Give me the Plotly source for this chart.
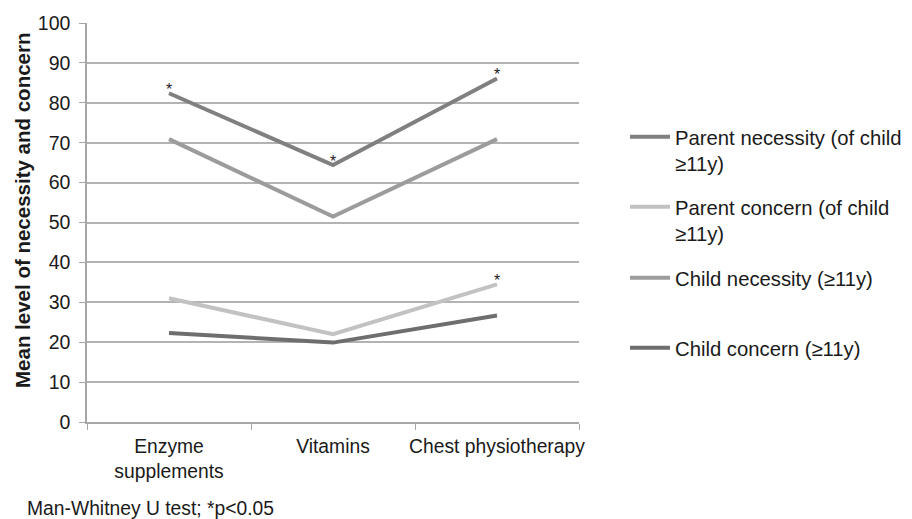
import plotly.graph_objects as go

categories = ["Enzyme<br>supplements", "Vitamins", "Chest physiotherapy"]
parent_necessity = [82.4, 64.4, 86.1]
parent_concern = [31.0, 22.0, 34.5]
child_necessity = [70.9, 51.5, 70.9]
child_concern = [22.3, 19.9, 26.7]
y_ticks = [0, 10, 20, 30, 40, 50, 60, 70, 80, 90, 100]

series = [
    ("Parent necessity (of child<br>≥11y)", parent_necessity, "#808080", "legend"),
    ("Parent concern (of child<br>≥11y)", parent_concern, "#c2c2c2", "legend2"),
    ("Child necessity (≥11y)", child_necessity, "#9c9c9c", "legend3"),
    ("Child concern (≥11y)", child_concern, "#6e6e6e", "legend4"),
]
# significance markers: (series values, category index)
sig_marks = [(parent_necessity, 0), (parent_necessity, 1), (parent_necessity, 2), (parent_concern, 2)]

FONT = "Liberation Sans, Arial, sans-serif"
OFF = 8  # page body margin offset
W, H = 912 - OFF, 519 - OFF
L, R, T, B = 87 - OFF, 579 - OFF, 23 - OFF, 422 - OFF


def py(p):  # screen pixel -> paper
    return (B - (p - OFF)) / (B - T)


def px(p):
    return ((p - OFF) - L) / (R - L)


fig = go.Figure()
for name, vals, col, lg in series:
    fig.add_trace(go.Scatter(
        x=categories, y=vals, name=name, mode="lines",
        line=dict(color=col, width=4), legend=lg,
    ))

for vals, i in sig_marks:
    fig.add_annotation(x=categories[i], y=vals[i], text="*", showarrow=False,
                       xanchor="center", yanchor="middle", yshift=4,
                       font=dict(family=FONT, size=16, color="#222222"))

fig.add_annotation(xref="paper", yref="paper", x=px(25), y=py(496), xanchor="left", yanchor="top",
                   text="Man-Whitney U test; *p<0.05", showarrow=False,
                   font=dict(family=FONT, size=19.3, color="#1a1a1a"))

fig.add_annotation(xref="paper", yref="paper", x=px(22), y=py(211), xanchor="center", yanchor="middle",
                   text="<b>Mean level of necessity and concern</b>", showarrow=False, textangle=-90,
                   font=dict(family=FONT, size=20.5, color="#1a1a1a"))

leg_common = dict(xref="paper", yref="paper", xanchor="left", yanchor="top",
                  bgcolor="rgba(0,0,0,0)", borderwidth=0, itemwidth=40, valign="top",
                  font=dict(family=FONT, size=20.3, color="#1a1a1a"), tracegroupgap=0)
fig.update_layout(
    width=W, height=H,
    margin=dict(l=L, r=W - R, t=T, b=H - B, pad=0, autoexpand=False),
    paper_bgcolor="white", plot_bgcolor="white",
    font=dict(family=FONT, size=19.5, color="#1a1a1a"),
    showlegend=True,
    legend=dict(x=px(625), y=py(138 - 21), **leg_common),
    legend2=dict(x=px(625), y=py(208 - 21), **leg_common),
    legend3=dict(x=px(625), y=py(279 - 21), **leg_common),
    legend4=dict(x=px(625), y=py(349 - 21), **leg_common),
    xaxis=dict(
        range=[-0.5, 2.5], automargin=False, tickangle=0,
        showline=True, linecolor="#a6a6a6", linewidth=1.5,
        ticks="outside", tickson="boundaries", ticklen=6, tickcolor="#a6a6a6",
        ticklabelstandoff=6,
        showgrid=False, tickfont=dict(family=FONT, size=19.3, color="#1a1a1a"),
    ),
    yaxis=dict(
        range=[0, 100], tickvals=y_ticks, automargin=False,
        showline=True, linecolor="#a6a6a6", linewidth=1.5,
        ticks="outside", ticklen=6, tickcolor="#a6a6a6", ticklabelstandoff=5,
        showgrid=True, gridcolor="#b3b3b3", gridwidth=1.5, zeroline=False,
        tickfont=dict(family=FONT, size=19.5, color="#1a1a1a"),
    ),
)
fig.write_html("out.html")
